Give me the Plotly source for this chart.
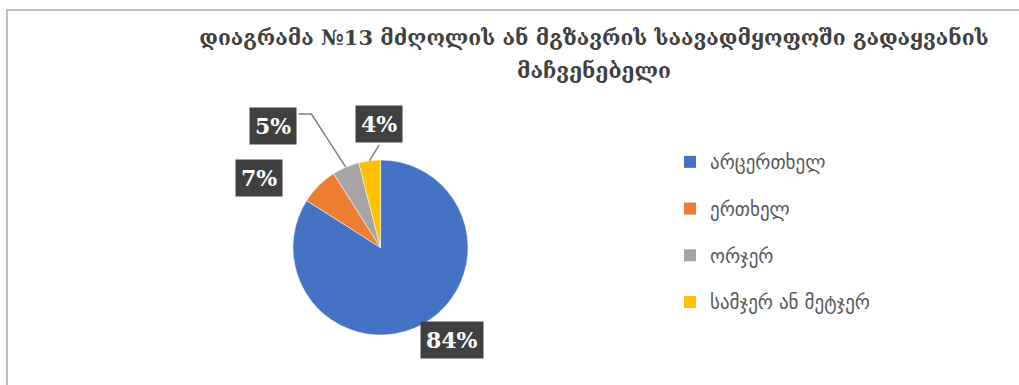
import math
import plotly.graph_objects as go

# ---- data ----
categories = ["არცერთხელ", "ერთხელ", "ორჯერ", "სამჯერ ან მეტჯერ"]
values = [84, 7, 5, 4]
colors = ["#4472C4", "#ED7D31", "#A5A5A5", "#FFC000"]
title_line1 = "დიაგრამა №13 მძღოლის ან მგზავრის საავადმყოფოში გადაყვანის"
title_line2 = "მაჩვენებელი"

# ---- layout (pixels) ----
W, H = 1019, 385
cx, cy, R = 380.5, 247.5, 87.5
# per-label placement: radius factor and angle nudge (deg)
label_place = [(1.34, -9), (1.60, -15), (1.85, -18), (1.41, 6.5)]

def px(x):
    return x / W

def py(y):
    return 1 - y / H

fig = go.Figure()
fig.add_trace(go.Pie(
    labels=categories, values=values, sort=False, direction="clockwise", rotation=0,
    marker=dict(colors=colors, line=dict(color="white", width=0.5)),
    textinfo="none", hoverinfo="label+percent", showlegend=False,
    domain=dict(x=[px(cx - R), px(cx + R)], y=[py(cy + R), py(cy - R)]),
))

# legend via dummy traces (for row spacing)
for c, col in zip(categories, colors):
    fig.add_trace(go.Scatter(x=[None], y=[None], mode="markers", name=c, legendgroup=c,
                             marker=dict(symbol="square", size=12, color=col)))

total = sum(values)
title_font = dict(family="DejaVu Serif", size=21, color="#404040")
annotations = [dict(x=px(594), y=py(70), xref="paper", yref="paper", showarrow=False,
                    xanchor="center", yanchor="middle", text=f"<b>{title_line2}</b>",
                    font=title_font)]
shapes = []
cum = 0
for i, v in enumerate(values):
    mid = (cum + v / 2) / total * 360
    cum += v
    rf, da = label_place[i]
    a = math.radians(mid + da)
    lx = cx + rf * R * math.sin(a)
    ly = cy - rf * R * math.cos(a)
    pct = round(v / total * 100)
    annotations.append(dict(
        x=px(lx), y=py(ly), xref="paper", yref="paper", showarrow=False,
        xanchor="center", yanchor="middle",
        text=f"<b>{pct}%</b>", bgcolor="#404040", borderpad=5,
        font=dict(family="DejaVu Serif", size=22, color="white"),
    ))
    am = math.radians(mid)
    ex = cx + R * math.sin(am)
    ey = cy - R * math.cos(am)
    if i == 2:
        path = f"M {px(lx+25)} {py(ly-12)} L {px(lx+38)} {py(ly-12)} L {px(ex)} {py(ey)}"
        shapes.append(dict(type="path", xref="paper", yref="paper", path=path,
                           line=dict(color="#7F7F7F", width=1.5)))
    if i == 3:
        path = f"M {px(lx)} {py(ly+21)} L {px(ex)} {py(ey)}"
        shapes.append(dict(type="path", xref="paper", yref="paper", path=path,
                           line=dict(color="#7F7F7F", width=1.5)))

# chart border (top and left)
shapes.append(dict(type="line", xref="paper", yref="paper", x0=px(6), x1=1, y0=py(10), y1=py(10),
                   line=dict(color="#BFBFBF", width=2)))
shapes.append(dict(type="line", xref="paper", yref="paper", x0=px(7), x1=px(7), y0=py(10), y1=0,
                   line=dict(color="#BFBFBF", width=2)))

fig.update_layout(
    width=W, height=H, margin=dict(l=0, r=0, t=0, b=0),
    paper_bgcolor="white", plot_bgcolor="white",
    xaxis=dict(visible=False), yaxis=dict(visible=False),
    title=dict(text=f"<b>{title_line1}</b>", x=px(594), xanchor="center", y=py(38), yanchor="middle",
               font=title_font),
    legend=dict(x=px(670), xanchor="left", y=py(143), yanchor="top", tracegroupgap=19,
                font=dict(family="DejaVu Sans", size=19, color="#595959"),
                bgcolor="rgba(0,0,0,0)"),
    annotations=annotations, shapes=shapes,
)

fig.write_html("out.html")
